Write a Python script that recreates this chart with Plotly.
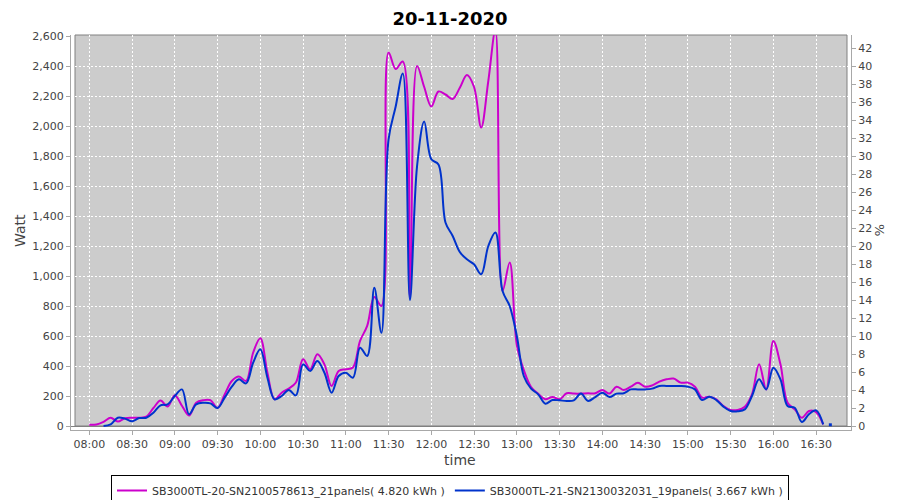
import plotly.graph_objects as go

DAY = "2020-11-20 "

times = [
    "08:00", "08:05", "08:10", "08:15", "08:20", "08:25", "08:30", "08:35", "08:40", "08:45", "08:50", "08:55",
    "09:00", "09:05", "09:10", "09:15", "09:20", "09:25", "09:30", "09:35", "09:40", "09:45", "09:50", "09:55",
    "10:00", "10:05", "10:10", "10:15", "10:20", "10:25", "10:30", "10:35", "10:40", "10:45", "10:50", "10:55",
    "11:00", "11:05", "11:10", "11:15", "11:20", "11:25", "11:30", "11:35", "11:40", "11:45", "11:50", "11:55",
    "12:00", "12:05", "12:10", "12:15", "12:20", "12:25", "12:30", "12:35", "12:40", "12:45", "12:50", "12:55",
    "13:00", "13:05", "13:10", "13:15", "13:20", "13:25", "13:30", "13:35", "13:40", "13:45", "13:50", "13:55",
    "14:00", "14:05", "14:10", "14:15", "14:20", "14:25", "14:30", "14:35", "14:40", "14:45", "14:50", "14:55",
    "15:00", "15:05", "15:10", "15:15", "15:20", "15:25", "15:30", "15:35", "15:40", "15:45", "15:50", "15:55",
    "16:00", "16:05", "16:10", "16:15", "16:20", "16:25", "16:30", "16:35",
]

watt_sn20 = [
    8, 10, 28, 55, 30, 52, 55, 55, 62, 120, 170, 130,
    205, 135, 70, 155, 172, 172, 120, 210, 300, 330, 300, 490,
    585, 355, 178, 222, 250, 290, 445, 378, 478, 411, 267, 367,
    378, 390, 567, 667, 860, 800, 2490, 2380, 2430, 860, 2400, 2260,
    2130, 2230, 2210, 2180, 2255, 2340, 2260, 1990, 2300, 2640, 900, 1090,
    540, 370, 260, 215, 178, 193, 178, 218, 216, 216, 218, 218,
    240, 216, 262, 240, 262, 289, 262, 271, 296, 311, 316, 289,
    289, 262, 189, 195, 178, 133, 107, 107, 129, 211, 411, 244,
    567, 411, 155, 111, 55, 100, 93, 11,
]

watt_sn21 = [
    None, None, 0, 11, 55, 49, 31, 53, 55, 89, 138, 144,
    200, 244, 78, 144, 155, 151, 120, 189, 262, 311, 284, 422,
    511, 322, 178, 200, 240, 204, 411, 367, 433, 355, 222, 333,
    355, 322, 522, 467, 922, 622, 1911, 2130, 2350, 840, 1733, 2030,
    1778, 1744, 1355, 1267, 1160, 1111, 1078, 1011, 1200, 1290, 900, 800,
    600, 330, 249, 211, 149, 173, 171, 167, 171, 216, 167, 193,
    222, 193, 216, 218, 244, 244, 244, 249, 267, 267, 267, 267,
    262, 244, 173, 195, 173, 129, 100, 98, 111, 200, 311, 244,
    389, 311, 133, 122, 27, 78, 104, 11,
]

sn21_extra_time = ["16:40"]
sn21_extra_watt = [8]

name_sn20 = "SB3000TL-20-SN2100578613_21panels( 4.820 kWh )"
name_sn21 = "SB3000TL-21-SN2130032031_19panels( 3.667 kWh )"

pct_ticks = list(range(0, 43, 2))

MAGENTA = "#cc00cc"
BLUE = "#0033cc"
FONT = "DejaVu Sans"
TICKC = "#444444"
AXC = "#a8a8a8"

x = [DAY + t for t in times]
x_extra = [DAY + t for t in sn21_extra_time]

fig = go.Figure()
fig.add_trace(go.Scatter(x=x, y=watt_sn20, mode="lines", name=name_sn20,
                         line=dict(color=MAGENTA, width=2, shape="spline", smoothing=1.0)))
fig.add_trace(go.Scatter(x=x, y=watt_sn21, mode="lines", name=name_sn21,
                         line=dict(color=BLUE, width=2, shape="spline", smoothing=1.0)))
fig.add_trace(go.Scatter(x=x_extra, y=sn21_extra_watt, mode="markers", showlegend=False,
                         marker=dict(color=BLUE, size=3, symbol="square")))
fig.add_trace(go.Scatter(x=[x[0]], y=[None], yaxis="y2", showlegend=False, hoverinfo="skip"))

# The page body has an 8px margin, so the figure is drawn 8px in from the window corner.
OFF = 8
FW, FH = 900 - OFF, 500 - OFF

def fx(p):  # window px -> figure px
    return p - OFF

L, R, T, B = fx(71), fx(851), fx(35), fx(430)   # plotly plot area
PW, PH = R - L, B - T
FL, FR, FT, FB = fx(75), fx(847), fx(35), fx(426)  # grey frame

def px_x(p):
    return (fx(p) - L) / PW

def px_y(p):
    return (B - fx(p)) / PH

fig.update_layout(
    width=FW, height=FH,
    margin=dict(l=L, r=FW - R, t=T, b=FH - B, autoexpand=False),
    paper_bgcolor="white", plot_bgcolor="rgba(0,0,0,0)",
    title=dict(text="<b>20-11-2020</b>", x=fx(450) / FW, xanchor="center",
               y=1 - fx(19) / FH, yanchor="middle",
               font=dict(family=FONT, size=18, color="#000000")),
    showlegend=True,
    legend=dict(orientation="h", xref="container", yref="container",
                x=fx(450) / FW, xanchor="center", y=1 - fx(475) / FH, yanchor="top",
                bordercolor="#000000", borderwidth=1, bgcolor="white",
                font=dict(family=FONT, size=11, color="#333333"), itemwidth=30,
                tracegroupgap=0),
    xaxis=dict(type="date", range=[DAY + "07:47:10", DAY + "16:54:30"], automargin=False,
               tickformat="%H:%M", dtick=30 * 60 * 1000, tick0=DAY + "08:00",
               showgrid=True, gridcolor="white", griddash="2px,2px", gridwidth=1,
               showline=True, linecolor=AXC, linewidth=1,
               ticks="outside", ticklen=4, tickcolor=AXC,
               tickfont=dict(family=FONT, size=11, color=TICKC), zeroline=False),
    yaxis=dict(range=[-4 / 0.15, (426 - 35) / 0.15], dtick=200, tick0=0, automargin=False,
               tickformat=",d",
               showgrid=True, gridcolor="white", griddash="2px,2px", gridwidth=1,
               zeroline=True, zerolinecolor="#808080", zerolinewidth=1,
               showline=True, linecolor=AXC, linewidth=1,
               ticks="outside", ticklen=4, tickcolor=AXC,
               tickfont=dict(family=FONT, size=11, color=TICKC)),
    yaxis2=dict(overlaying="y", side="right", range=[-4 / 9, (426 - 35) / 9], automargin=False,
                tickvals=pct_ticks, ticktext=[str(v) for v in pct_ticks],
                showgrid=False, zeroline=False,
                showline=True, linecolor=AXC, linewidth=1,
                ticks="outside", ticklen=4, tickcolor=AXC,
                tickfont=dict(family=FONT, size=11, color=TICKC)),
    shapes=[
        dict(type="rect", xref="paper", yref="paper",
             x0=(FL - L) / PW, x1=(FR - L) / PW, y0=(B - FB) / PH, y1=(B - FT) / PH,
             fillcolor="#cccccc", line=dict(width=0), layer="below"),
        dict(type="rect", xref="paper", yref="paper",
             x0=(FL - L) / PW, x1=(FR - L) / PW, y0=(B - FB) / PH, y1=(B - FT) / PH,
             fillcolor="rgba(0,0,0,0)", line=dict(color="#808080", width=1), layer="between"),
    ],
    annotations=[
        dict(text="Watt", xref="paper", yref="paper", x=px_x(20), y=px_y(231),
             textangle=-90, showarrow=False, xanchor="center", yanchor="middle",
             font=dict(family=FONT, size=14, color="#444444")),
        dict(text="%", xref="paper", yref="paper", x=px_x(880), y=px_y(230),
             textangle=90, showarrow=False, xanchor="center", yanchor="middle",
             font=dict(family=FONT, size=13, color="#444444")),
        dict(text="time", xref="paper", yref="paper", x=px_x(460), y=px_y(460),
             showarrow=False, xanchor="center", yanchor="middle",
             font=dict(family=FONT, size=14, color="#444444")),
    ],
)

fig.write_html("out.html")
